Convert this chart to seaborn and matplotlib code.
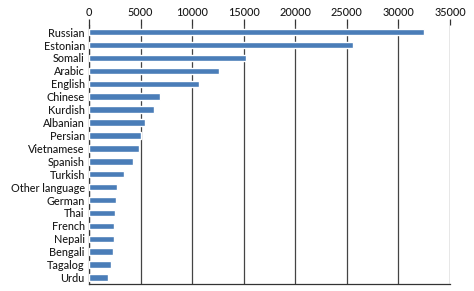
import matplotlib
matplotlib.use("Agg")
import matplotlib.pyplot as plt
import seaborn as sns
import pandas as pd
import numpy as np

languages = ["Russian", "Estonian", "Somali", "Arabic", "English", "Chinese",
             "Kurdish", "Albanian", "Persian", "Vietnamese", "Spanish", "Turkish",
             "Other language", "German", "Thai", "French", "Nepali", "Bengali",
             "Tagalog", "Urdu"]
speakers = [32500, 25600, 15200, 12600, 10700, 6900, 6300, 5400, 5000, 4800,
            4250, 3350, 2700, 2600, 2520, 2450, 2400, 2370, 2130, 1800]
xticks = [0, 5000, 10000, 15000, 20000, 25000, 30000, 35000]

df = pd.DataFrame({"language": languages, "speakers": speakers})

sns.set_style("white")
plt.rcParams["font.family"] = ["Lato", "DejaVu Sans"]

fig = plt.figure(figsize=(4.74, 2.91), dpi=100)
ax = fig.add_axes([89/474, 1 - 284/291, (450-89)/474, (284-25)/291])

sns.barplot(data=df, y="language", x="speakers", orient="h", color="#4a7db8",
            saturation=1, width=0.5, ax=ax, zorder=3)

ax.set_xlim(0, 35000)
ax.set_ylim(len(languages) - 0.5, -0.55)
ax.set_xticks(xticks)
ax.set_xticklabels([str(t) for t in xticks], fontsize=7.8, color="#1a1a1a",
                   fontweight="medium")
ax.xaxis.tick_top()
ax.tick_params(axis="x", direction="out", length=4, width=0.9, color="#333333", pad=1)
ax.set_yticks(np.arange(len(languages)))
ax.set_yticklabels(languages, fontsize=7.8, color="#1a1a1a", fontweight="medium")
ax.set_yticks(np.arange(len(languages)) + 0.5, minor=True)
ax.tick_params(axis="y", which="major", length=0, pad=3)
ax.tick_params(axis="y", which="minor", direction="out", length=4, width=0.9, color="#333333")
ax.set_xlabel("")
ax.set_ylabel("")
ax.grid(axis="x", color="#444444", linewidth=0.9, zorder=0)
ax.set_axisbelow(True)
for s in ["top", "right"]:
    ax.spines[s].set_visible(False)
for s in ["left", "bottom"]:
    ax.spines[s].set_color("#333333")
    ax.spines[s].set_linewidth(0.9)

fig.savefig("out.png", dpi=100)
